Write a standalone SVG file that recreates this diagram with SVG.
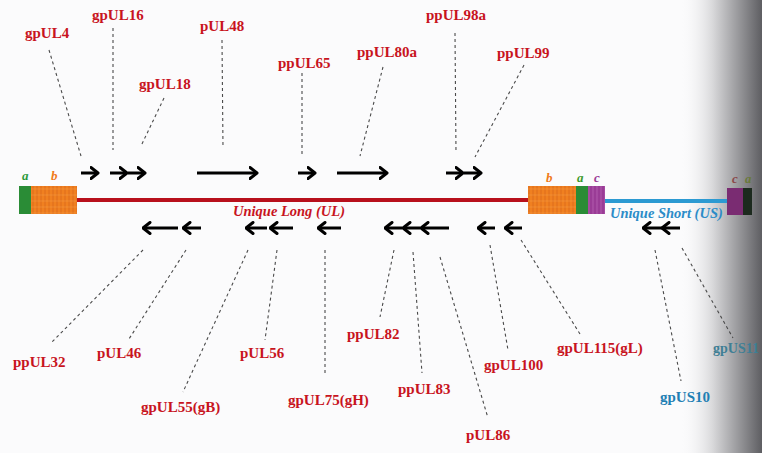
<svg xmlns="http://www.w3.org/2000/svg" width="762" height="453" viewBox="0 0 762 453">
<defs>
<linearGradient id="shade" x1="0" y1="0" x2="1" y2="0">
<stop offset="0" stop-color="#fbfbfc" stop-opacity="0"/>
<stop offset="0.4" stop-color="#d8d8da" stop-opacity="1"/>
<stop offset="1" stop-color="#5e5e62" stop-opacity="1"/>
</linearGradient>
<pattern id="stripe" width="4" height="6" patternUnits="userSpaceOnUse">
<rect width="4" height="6" fill="#f08020"/>
<line x1="1" y1="0" x2="1" y2="6" stroke="#d8661a" stroke-width="0.8"/>
<line x1="0" y1="3" x2="4" y2="3" stroke="#f59a48" stroke-width="0.5"/>
</pattern>
<pattern id="pstripe" width="4" height="6" patternUnits="userSpaceOnUse">
<rect width="4" height="6" fill="#9a3c96"/>
<line x1="1" y1="0" x2="1" y2="6" stroke="#b862b2" stroke-width="0.8"/>
</pattern>
<marker id="head" viewBox="0 0 10 14" refX="8.5" refY="7" markerWidth="10" markerHeight="14" markerUnits="userSpaceOnUse" orient="auto">
<path d="M1.5,1.5 L8.5,7 L1.5,12.5" fill="none" stroke="#000" stroke-width="3" stroke-linecap="round" stroke-linejoin="round"/>
</marker>
</defs>
<style>
.lbl{font-family:"Liberation Serif","Times New Roman",serif;font-weight:bold;font-size:15px;fill:#c8141e}
.blu{fill:#1f80b4}
.seg{font-family:"Liberation Serif","Times New Roman",serif;font-weight:bold;font-style:italic;font-size:13px}
.reg{font-family:"Liberation Serif","Times New Roman",serif;font-weight:bold;font-style:italic;font-size:14.5px}
.arr{stroke:#000;stroke-width:3;fill:none;marker-end:url(#head)}
.dash{stroke:#4a4a4a;stroke-width:1.1;stroke-dasharray:3 3;fill:none}
</style>
<rect width="762" height="453" fill="#fbfbfc"/>
<rect x="680" y="0" width="82" height="453" fill="url(#shade)"/>

<g id="genome">
<line x1="76" y1="200" x2="530" y2="200" stroke="#b8101c" stroke-width="4"/>
<line x1="604" y1="201" x2="728" y2="201" stroke="#2c9ad2" stroke-width="4"/>
<rect x="19" y="186" width="12" height="28" fill="#2a8c36"/>
<rect x="31" y="186" width="46" height="28" fill="url(#stripe)"/>
<rect x="528" y="186" width="48" height="28" fill="url(#stripe)"/>
<rect x="576" y="186" width="12" height="28" fill="#2a8c36"/>
<rect x="588" y="186" width="17" height="28" fill="url(#pstripe)"/>
<rect x="727" y="188" width="16" height="27" fill="#7a2c72"/>
<rect x="743" y="188" width="9" height="27" fill="#1c2a1e"/>
<text class="seg" x="22" y="180" fill="#2a9a3a">a</text>
<text class="seg" x="51" y="180" fill="#f07a18">b</text>
<text class="seg" x="546" y="182" fill="#f07a18">b</text>
<text class="seg" x="577" y="182" fill="#3a9a2a">a</text>
<text class="seg" x="594" y="182" fill="#9a3a96">c</text>
<text class="seg" x="732" y="183" fill="#8a4a4a">c</text>
<text class="seg" x="745" y="183" fill="#6a7a3a">a</text>
<text class="reg" x="233" y="216" fill="#c8141e">Unique Long (UL)</text>
<text class="reg" x="610" y="218" fill="#2c8cc8">Unique Short (US)</text>
</g>

<g id="connectors">
<line class="dash" x1="49" y1="50" x2="81" y2="156"/>
<line class="dash" x1="113" y1="28" x2="113" y2="150"/>
<line class="dash" x1="164" y1="98" x2="141" y2="146"/>
<line class="dash" x1="222" y1="40" x2="223" y2="148"/>
<line class="dash" x1="302" y1="73" x2="302" y2="157"/>
<line class="dash" x1="383" y1="67" x2="360" y2="156"/>
<line class="dash" x1="455" y1="33" x2="456" y2="153"/>
<line class="dash" x1="524" y1="65" x2="475" y2="157"/>
<line class="dash" x1="143" y1="250" x2="52" y2="342"/>
<line class="dash" x1="186" y1="250" x2="129" y2="339"/>
<line class="dash" x1="248" y1="250" x2="183" y2="392"/>
<line class="dash" x1="277" y1="250" x2="265" y2="340"/>
<line class="dash" x1="325" y1="250" x2="325" y2="375"/>
<line class="dash" x1="394" y1="250" x2="380" y2="317"/>
<line class="dash" x1="413" y1="252" x2="422" y2="373"/>
<line class="dash" x1="440" y1="257" x2="488" y2="418"/>
<line class="dash" x1="490" y1="245" x2="508" y2="350"/>
<line class="dash" x1="521" y1="240" x2="580" y2="334"/>
<line class="dash" x1="655" y1="250" x2="681" y2="381"/>
<line class="dash" x1="682" y1="248" x2="733" y2="338"/>
</g>

<g id="gpUL4"><text class="lbl" x="25" y="38">gpUL4</text><line class="arr" x1="81" y1="173" x2="98" y2="173"/></g>
<g id="gpUL16"><text class="lbl" x="92" y="20">gpUL16</text><line class="arr" x1="110" y1="173" x2="127" y2="173"/></g>
<g id="gpUL18"><text class="lbl" x="139" y="89">gpUL18</text><line class="arr" x1="128" y1="173" x2="145" y2="173"/></g>
<g id="pUL48"><text class="lbl" x="200" y="31">pUL48</text><line class="arr" x1="197" y1="173" x2="257" y2="173"/></g>
<g id="ppUL65"><text class="lbl" x="278" y="68">ppUL65</text><line class="arr" x1="298" y1="173" x2="315" y2="173"/></g>
<g id="ppUL80a"><text class="lbl" x="357" y="57">ppUL80a</text><line class="arr" x1="337" y1="173" x2="387" y2="173"/></g>
<g id="ppUL98a"><text class="lbl" x="426" y="20">ppUL98a</text><line class="arr" x1="446" y1="173" x2="463" y2="173"/></g>
<g id="ppUL99"><text class="lbl" x="497" y="58">ppUL99</text><line class="arr" x1="464" y1="173" x2="481" y2="173"/></g>

<g id="ppUL32"><text class="lbl" x="13" y="367">ppUL32</text><line class="arr" x1="178" y1="228" x2="143" y2="228"/></g>
<g id="pUL46"><text class="lbl" x="97" y="358">pUL46</text><line class="arr" x1="201" y1="228" x2="183" y2="228"/></g>
<g id="gpUL55gB"><text class="lbl" x="141" y="412">gpUL55(gB)</text><line class="arr" x1="267" y1="228" x2="246" y2="228"/></g>
<g id="pUL56"><text class="lbl" x="240" y="358">pUL56</text><line class="arr" x1="293" y1="228" x2="270" y2="228"/></g>
<g id="gpUL75gH"><text class="lbl" x="288" y="405">gpUL75(gH)</text><line class="arr" x1="341" y1="228" x2="318" y2="228"/></g>
<g id="ppUL82"><text class="lbl" x="347" y="339">ppUL82</text><line class="arr" x1="402" y1="228" x2="385" y2="228"/></g>
<g id="ppUL83"><text class="lbl" x="398" y="394">ppUL83</text><line class="arr" x1="420" y1="228" x2="403" y2="228"/></g>
<g id="pUL86"><text class="lbl" x="466" y="440">pUL86</text><line class="arr" x1="449" y1="228" x2="421" y2="228"/></g>
<g id="gpUL100"><text class="lbl" x="484" y="370">gpUL100</text><line class="arr" x1="495" y1="228" x2="478" y2="228"/></g>
<g id="gpUL115gL"><text class="lbl" x="557" y="353">gpUL115(gL)</text><line class="arr" x1="522" y1="228" x2="505" y2="228"/></g>
<g id="gpUS10"><text class="lbl blu" x="660" y="402">gpUS10</text><line class="arr" x1="662" y1="228" x2="643" y2="228"/></g>
<g id="gpUS11"><text class="lbl" x="713" y="353" style="fill:#3f7f95;font-size:14px">gpUS11</text><line class="arr" x1="680" y1="228" x2="662" y2="228"/></g>
</svg>
